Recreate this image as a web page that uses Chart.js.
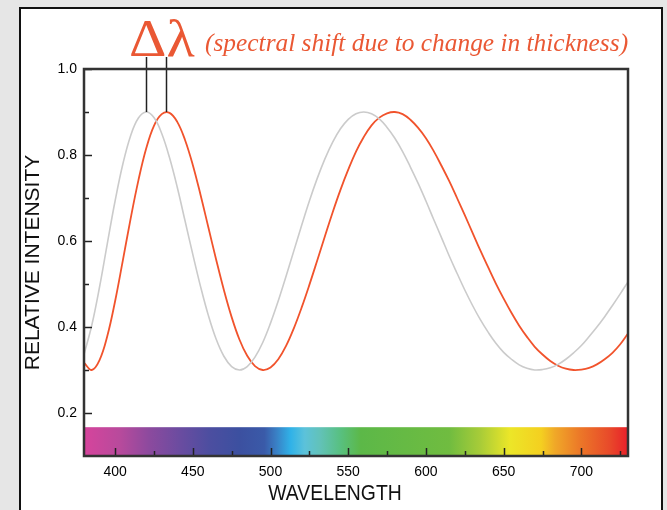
<!DOCTYPE html>
<html>
<head>
<meta charset="utf-8">
<script src="https://cdn.jsdelivr.net/npm/chart.js@4.4.1/dist/chart.umd.min.js"></script>
<style>
  body { margin: 0; background: #e6e6e6; }
  #card {
    position: absolute; left: 19px; top: 7px; width: 640px; height: 520px;
    background: #fff; border: 2px solid #111;
  }
  #wrap { position: absolute; left: 0; top: 0; width: 667px; height: 510px; }
  .title { position: absolute; color: #ea5834; font-family: "Liberation Serif", "Times New Roman", serif; white-space: nowrap; }
  #delta { left: 129px; top: 9px; font-size: 52px; line-height: 60px; transform: scaleX(1.12); transform-origin: left top; }
  #note { left: 205px; top: 27px; font-size: 25.4px; line-height: 30px; font-style: italic; }
  #xTitle {
    position: absolute; left: 235px; width: 200px; top: 480px; text-align: center;
    font-family: "Liberation Sans", Arial, sans-serif; font-size: 22px; line-height: 26px; color: #111;
    transform: scaleX(0.88);
  }
</style>
</head>
<body>
<div id="card"></div>
<div id="wrap"><canvas id="myChart"></canvas></div>
<div class="title" id="delta">Δλ</div>
<div class="title" id="note">(spectral shift due to change in thickness)</div>
<div id="xTitle">WAVELENGTH</div>
<script>
const wavelengths = [
  380, 385, 390, 395, 400, 405, 410, 415, 420, 425, 430, 435, 440, 445, 450,
  455, 460, 465, 470, 475, 480, 485, 490, 495, 500, 505, 510, 515, 520, 525,
  530, 535, 540, 545, 550, 555, 560, 565, 570, 575, 580, 585, 590, 595, 600,
  605, 610, 615, 620, 625, 630, 635, 640, 645, 650, 655, 660, 665, 670, 675,
  680, 685, 690, 695, 700, 705, 710, 715, 720, 725, 730
]

// original film (grey curve)
const originalFilm = [
  0.336, 0.404, 0.493, 0.594, 0.693, 0.779, 0.845, 0.886, 0.900, 0.887, 0.850, 0.794, 0.725, 0.647, 0.569,
  0.494, 0.427, 0.372, 0.332, 0.308, 0.300, 0.308, 0.330, 0.364, 0.409, 0.461, 0.518, 0.577, 0.636, 0.693,
  0.745, 0.791, 0.830, 0.861, 0.883, 0.896, 0.900, 0.896, 0.884, 0.864, 0.839, 0.808, 0.772, 0.734, 0.693,
  0.650, 0.608, 0.565, 0.525, 0.486, 0.450, 0.417, 0.388, 0.362, 0.341, 0.325, 0.312, 0.304, 0.300, 0.301,
  0.305, 0.313, 0.325, 0.340, 0.357, 0.378, 0.400, 0.424, 0.450, 0.477, 0.505
]

// thicker film (red curve)
const thickerFilm = [
  0.317, 0.300, 0.323, 0.379, 0.460, 0.555, 0.652, 0.741, 0.815, 0.868, 0.895, 0.898, 0.877, 0.835, 0.777,
  0.707, 0.632, 0.557, 0.486, 0.423, 0.371, 0.333, 0.309, 0.300, 0.306, 0.325, 0.356, 0.397, 0.445, 0.498,
  0.554, 0.611, 0.667, 0.719, 0.766, 0.808, 0.842, 0.869, 0.887, 0.897, 0.900, 0.895, 0.882, 0.863, 0.839,
  0.809, 0.775, 0.739, 0.700, 0.660, 0.619, 0.578, 0.539, 0.501, 0.466, 0.433, 0.403, 0.377, 0.354, 0.336,
  0.321, 0.310, 0.303, 0.300, 0.301, 0.305, 0.313, 0.325, 0.340, 0.360, 0.385
]

const xTickLabels = [400, 450, 500, 550, 600, 650, 700]
const xMinorTicks = [425, 475, 525, 575, 625, 675, 725]
const yTickLabels = [0.2, 0.4, 0.6, 0.8, 1.0]
const yMinorTicks = [0.3, 0.5, 0.7, 0.9]

// peaks marked with the delta-lambda lines
const shiftPeaks = [420, 433]
const peakLevel = 0.9

// colour band along the bottom of the plot
const bandRange = [0.1, 0.167]
const spectrumNm = [380, 403, 422, 442, 461, 480, 496, 503, 513, 522, 532, 545, 558, 615, 635, 654, 674, 683, 699, 718, 730]
const spectrumColors = [
  '#d6449c', '#b84a9c', '#8c4a9e', '#6a4ca0', '#4c4ea0', '#3c50a0', '#3a5aa8', '#3a7cc2', '#30b2e8', '#5cc2da',
  '#62c2b8', '#58c080', '#5cb848', '#70bc40', '#a8cc38', '#ece628', '#f4d020', '#f0a828', '#ec7828', '#e84a2a', '#e8202a'
]

const axisFont = { family: "'Liberation Sans', Arial, sans-serif", size: 14 }
const titleFont = { family: "'Liberation Sans', Arial, sans-serif", size: 21 }

const spectrumBand = {
  id: 'spectrumBand',
  beforeDatasetsDraw(chart) {
    const { ctx, scales: { x, y } } = chart
    const x0 = x.getPixelForValue(x.min)
    const x1 = x.getPixelForValue(x.max)
    const top = y.getPixelForValue(bandRange[1])
    const bottom = y.getPixelForValue(bandRange[0])
    const grad = ctx.createLinearGradient(x0, 0, x1, 0)
    spectrumNm.forEach((nm, i) => {
      grad.addColorStop((nm - x.min) / (x.max - x.min), spectrumColors[i])
    })
    ctx.save()
    ctx.fillStyle = grad
    ctx.fillRect(x0, top, x1 - x0, bottom - top)
    ctx.restore()
  }
}

// frame, inward tick marks and the two shift markers
const frameAndTicks = {
  id: 'frameAndTicks',
  afterDraw(chart) {
    const { ctx, chartArea: a, scales: { x, y } } = chart
    ctx.save()
    ctx.strokeStyle = '#222'
    ctx.lineWidth = 1.5
    xTickLabels.forEach(v => {
      const px = Math.round(x.getPixelForValue(v)) + 0.5
      ctx.beginPath(); ctx.moveTo(px, a.bottom); ctx.lineTo(px, a.bottom - 8); ctx.stroke()
    })
    xMinorTicks.forEach(v => {
      const px = Math.round(x.getPixelForValue(v)) + 0.5
      ctx.beginPath(); ctx.moveTo(px, a.bottom); ctx.lineTo(px, a.bottom - 5); ctx.stroke()
    })
    yTickLabels.forEach(v => {
      const py = Math.round(y.getPixelForValue(v)) + 0.5
      ctx.beginPath(); ctx.moveTo(a.left, py); ctx.lineTo(a.left + 8, py); ctx.stroke()
    })
    yMinorTicks.forEach(v => {
      const py = Math.round(y.getPixelForValue(v)) + 0.5
      ctx.beginPath(); ctx.moveTo(a.left, py); ctx.lineTo(a.left + 5, py); ctx.stroke()
    })

    shiftPeaks.forEach(v => {
      const px = Math.round(x.getPixelForValue(v)) + 0.5
      ctx.beginPath(); ctx.moveTo(px, a.top - 12); ctx.lineTo(px, y.getPixelForValue(peakLevel)); ctx.stroke()
    })

    ctx.strokeStyle = '#333'
    ctx.lineWidth = 2.5
    ctx.strokeRect(a.left, a.top, a.right - a.left, a.bottom - a.top)
    ctx.restore()
  }
}

new Chart(document.getElementById('myChart'), {
  type: 'line',
  data: {
    datasets: [
      {
        data: wavelengths.map((w, i) => ({ x: w, y: originalFilm[i] })),
        borderColor: '#cbcbcb',
        borderWidth: 1.6,
        pointRadius: 0,
        tension: 0.4
      },
      {
        data: wavelengths.map((w, i) => ({ x: w, y: thickerFilm[i] })),
        borderColor: '#f1532c',
        borderWidth: 1.8,
        pointRadius: 0,
        tension: 0.4
      }
    ]
  },
  options: {
    responsive: true,
    maintainAspectRatio: false,
    animation: false,
    layout: { padding: { top: 69, right: 39, left: 0, bottom: 0 } },
    plugins: { legend: { display: false }, tooltip: { enabled: false } },
    scales: {
      x: {
        type: 'linear',
        min: 380,
        max: 730,
        afterBuildTicks: s => { s.ticks = xTickLabels.map(v => ({ value: v })) },
        afterFit: s => { s.height = 54 },
        grid: { display: false, drawTicks: false },
        border: { display: false },
        ticks: { font: axisFont, color: '#000', padding: 8, maxRotation: 0 }
      },
      y: {
        min: 0.1,
        max: 1.0,
        afterBuildTicks: s => { s.ticks = yTickLabels.map(v => ({ value: v })) },
        afterFit: s => { s.width = 84 },
        grid: { display: false, drawTicks: false },
        border: { display: false },
        ticks: { font: axisFont, color: '#000', padding: 7, callback: v => v.toFixed(1) },
        title: { display: true, text: 'RELATIVE INTENSITY', font: titleFont, color: '#111', padding: { top: 21, bottom: 0 } }
      }
    }
  },
  plugins: [spectrumBand, frameAndTicks]
})
</script>
</body>
</html>
